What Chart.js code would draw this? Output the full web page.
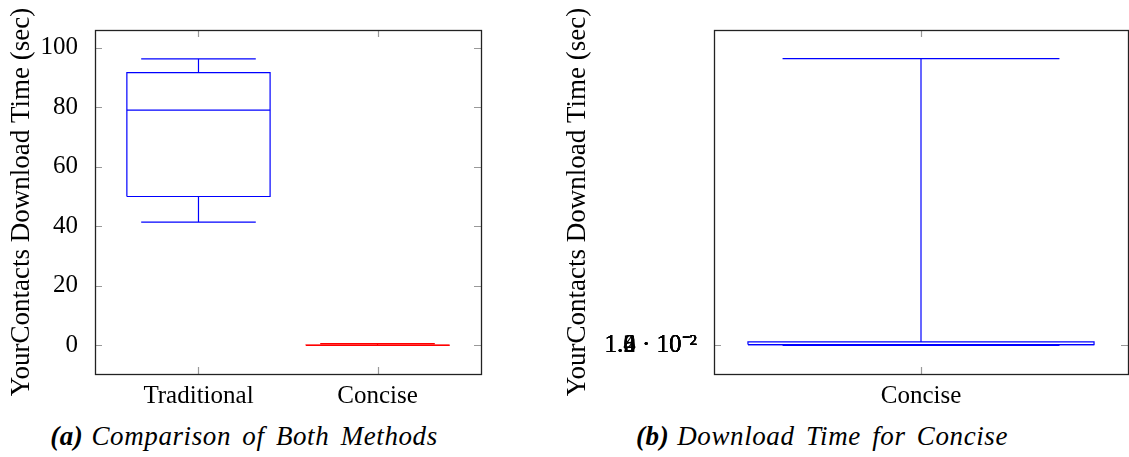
<!DOCTYPE html>
<html>
<head>
<meta charset="utf-8">
<script src="https://cdn.jsdelivr.net/npm/chart.js@4"></script>
<style>
    body { margin: 0; background: #fff; }
    #page { position: relative; width: 1129px; height: 457px; overflow: hidden; }
    .panel { position: absolute; top: 0; height: 420px; }
    .caption {
        position: absolute; top: 421px; font-family: 'Liberation Serif', serif;
        font-size: 27px; font-style: italic; white-space: nowrap; transform: translateX(-50%);
        word-spacing: 4px; letter-spacing: 0.6px;
    }
    .caption b { margin-right: 8px; }
</style>
</head>
<body>
<div id="page">
    <div class="panel" style="left:0;width:560px"><canvas id="chart-a"></canvas></div>
    <div class="panel" style="left:560px;width:569px"><canvas id="chart-b"></canvas></div>
    <div class="caption" style="left:244px"><b>(a)</b>Comparison of Both Methods</div>
    <div class="caption" style="left:822px"><b>(b)</b>Download Time for Concise</div>
</div>
<script>
// Panel (a): both methods
const categoriesA = ['Traditional', 'Concise'];
const lowerWhiskerA = [41.4, 0.0];
const q1A = [50.0, 0.01];
const medianA = [79.0, 0.02];
const q3A = [91.6, 0.05];
const upperWhiskerA = [96.2, 0.55];
const yTicksA = [0, 20, 40, 60, 80, 100];

// Panel (b): Concise only
const categoriesB = ['Concise'];
const lowerWhiskerB = [0.0];
const q1B = [0.25];
const medianB = [0.25];
const q3B = [1.15];
const upperWhiskerB = [96.3];
const yTicksB = [0.010, 0.012, 0.014, 0.016, 0.018];

const Y_TITLE = 'YourContacts Download Time (sec)';
const FONT = 'Liberation Serif';

// Draw frame and pgfplots-like inner ticks on every side
const framePlugin = {
    id: 'frame',
    afterDraw(chart) {
        const { ctx, chartArea: a, scales } = chart;
        ctx.save();
        ctx.strokeStyle = '#999';
        ctx.lineWidth = 1.2;
        scales.y.ticks.forEach(t => {
            const y = Math.round(scales.y.getPixelForValue(t.value)) + 0.5;
            ctx.beginPath();
            ctx.moveTo(a.left, y); ctx.lineTo(a.left + 7, y);
            ctx.moveTo(a.right - 7, y); ctx.lineTo(a.right, y);
            ctx.stroke();
        });
        scales.x.ticks.forEach(t => {
            const x = Math.round(scales.x.getPixelForValue(t.value)) + 0.5;
            ctx.beginPath();
            ctx.moveTo(x, a.top); ctx.lineTo(x, a.top + 7);
            ctx.moveTo(x, a.bottom - 7); ctx.lineTo(x, a.bottom);
            ctx.stroke();
        });
        ctx.strokeStyle = '#222';
        ctx.lineWidth = 1.3;
        ctx.strokeRect(Math.round(a.left) + 0.5, Math.round(a.top) + 0.5,
            Math.round(a.right - a.left), Math.round(a.bottom - a.top));
        ctx.restore();
    }
};

// Build line datasets for box plots (box, median, whiskers) from the arrays
function boxDatasets(lo, q1, med, q3, hi, colors) {
    const sets = [];
    const bw = 0.4, ww = 0.32;
    const line = (data, color) => ({
        data, showLine: true, borderColor: color, borderWidth: 1.2,
        pointRadius: 0, fill: false, tension: 0
    });
    lo.forEach((_, i) => {
        const c = i + 1;
        const col = colors[i];
        sets.push(line([{ x: c - bw, y: q1[i] }, { x: c + bw, y: q1[i] }, { x: c + bw, y: q3[i] },
            { x: c - bw, y: q3[i] }, { x: c - bw, y: q1[i] }], col));
        sets.push(line([{ x: c - bw, y: med[i] }, { x: c + bw, y: med[i] }], col));
        sets.push(line([{ x: c, y: q3[i] }, { x: c, y: hi[i] }], col));
        sets.push(line([{ x: c - ww, y: hi[i] }, { x: c + ww, y: hi[i] }], col));
        sets.push(line([{ x: c, y: q1[i] }, { x: c, y: lo[i] }], col));
        sets.push(line([{ x: c - ww, y: lo[i] }, { x: c + ww, y: lo[i] }], col));
    });
    return sets;
}

function makeChart(id, cfg) {
    return new Chart(document.getElementById(id), {
        type: 'scatter',
        data: { datasets: cfg.datasets },
        options: {
            responsive: true,
            maintainAspectRatio: false,
            animation: false,
            layout: { padding: { top: 30, right: cfg.padRight, bottom: 0, left: 0 } },
            plugins: { legend: { display: false }, tooltip: { enabled: false } },
            scales: {
                x: {
                    type: 'linear',
                    min: cfg.xMin,
                    max: cfg.xMax,
                    grid: { display: false },
                    border: { display: false },
                    afterBuildTicks: s => { s.ticks = cfg.categories.map((_, i) => ({ value: i + 1 })); },
                    afterFit: s => { s.height = 46; },
                    ticks: {
                        autoSkip: false,
                        maxRotation: 0,
                        padding: -1,
                        color: '#000',
                        font: { family: FONT, size: 25 },
                        callback: (v, i) => cfg.categories[i]
                    }
                },
                y: {
                    min: -9.63,
                    max: 105.93,
                    grid: { display: false },
                    border: { display: false },
                    afterBuildTicks: s => { s.ticks = cfg.yTicks.map(v => ({ value: v })); },
                    afterFit: s => { s.width = cfg.yWidth; },
                    ticks: {
                        autoSkip: false,
                        padding: 9,
                        color: '#000',
                        font: { family: FONT, size: 25 },
                        callback: cfg.yLabel
                    },
                    title: {
                        display: true,
                        text: Y_TITLE,
                        color: '#000',
                        font: { family: FONT, size: 27 },
                        padding: { top: cfg.titlePad, bottom: 0 }
                    }
                }
            }
        },
        plugins: [framePlugin]
    });
}

makeChart('chart-a', {
    datasets: boxDatasets(lowerWhiskerA, q1A, medianA, q3A, upperWhiskerA, ['#0000ff', '#ff0000']),
    categories: categoriesA,
    xMin: 0.422, xMax: 2.578,
    yTicks: yTicksA,
    yLabel: v => String(v),
    yWidth: 95, padRight: 79, titlePad: 6
});

makeChart('chart-b', {
    datasets: boxDatasets(lowerWhiskerB, q1B, medianB, q3B, upperWhiskerB, ['#0000ff']),
    categories: categoriesB,
    xMin: 0.5215, xMax: 1.4785,
    yTicks: yTicksB,
    yLabel: v => (v * 100).toFixed(1) + ' · 10⁻²',
    yWidth: 154, padRight: 1, titlePad: 2
});
</script>
</body>
</html>
